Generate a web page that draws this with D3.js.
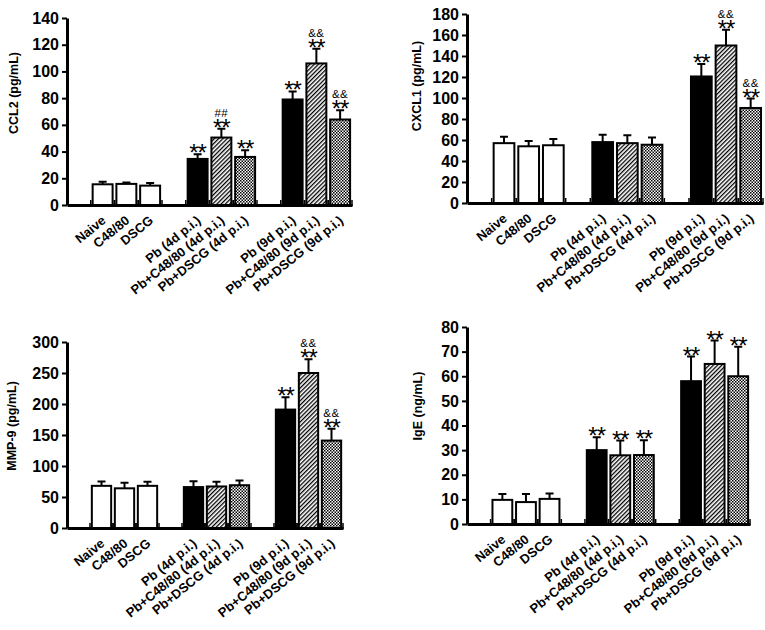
<!DOCTYPE html>
<html>
<head>
<meta charset="utf-8">
<script src="https://cdn.jsdelivr.net/npm/d3@7"></script>
<style>
  body { margin: 0; background: #fff; }
  svg { display: block; font-family: "Liberation Sans", Arial, sans-serif; }
  .axis text { font-weight: bold; fill: #000; }
</style>
</head>
<body>
<div class="chart-container"></div>
<script>
//! DATA
const groups = [
  'Naive', 'C48/80', 'DSCG',
  'Pb (4d p.i.)', 'Pb+C48/80 (4d p.i.)', 'Pb+DSCG (4d p.i.)',
  'Pb (9d p.i.)', 'Pb+C48/80 (9d p.i.)', 'Pb+DSCG (9d p.i.)'
];

const ccl2Mean = [15.5, 15.8, 14.5, 34.5, 50.5, 36, 79, 106, 64];
const ccl2Err = [2, 1, 2, 3.5, 6.5, 5, 6, 11, 7];
const ccl2Stars = ['', '', '', '**', '**', '**', '**', '**', '**'];
const ccl2Marks = ['', '', '', '', '##', '', '', '&&', '&&'];
const ccl2Ticks = [0, 20, 40, 60, 80, 100, 120, 140];

const cxcl1Mean = [57, 54, 55, 58, 57, 55.5, 120.5, 150, 90.5];
const cxcl1Err = [6, 5, 6, 7, 7.5, 7, 12, 15, 9];
const cxcl1Stars = ['', '', '', '', '', '', '**', '**', '**'];
const cxcl1Marks = ['', '', '', '', '', '', '', '&&', '&&'];
const cxcl1Ticks = [0, 20, 40, 60, 80, 100, 120, 140, 160, 180];

const mmp9Mean = [68, 64, 68, 66, 67, 69, 191, 250, 141];
const mmp9Err = [7, 9, 6.5, 9.5, 7.5, 7.5, 20, 22, 19];
const mmp9Stars = ['', '', '', '', '', '', '**', '**', '**'];
const mmp9Marks = ['', '', '', '', '', '', '', '&&', '&&'];
const mmp9Ticks = [0, 50, 100, 150, 200, 250, 300];

const igeMean = [9.8, 8.9, 10.2, 30, 27.9, 28, 58, 65, 60];
const igeErr = [2.4, 3.3, 2.2, 5.2, 6, 6, 10, 9.5, 12];
const igeStars = ['', '', '', '**', '**', '**', '**', '**', '**'];
const igeMarks = ['', '', '', '', '', '', '', '', ''];
const igeTicks = [0, 10, 20, 30, 40, 50, 60, 70, 80];

//! CONSTS
const width = 765;
const height = 630;
// slot order on the x axis, spacer slots keep the three groups apart
const slots = ['_a', groups[0], groups[1], groups[2], '_b',
  groups[3], groups[4], groups[5], '_c', groups[6], groups[7], groups[8]];
const fillFor = (i) => (i < 3 ? '#fff' : ['#000', 'url(#hatch)', 'url(#check)'][i % 3]);

const panels = [
  { title: 'CCL2 (pg/mL)', mean: ccl2Mean, err: ccl2Err, stars: ccl2Stars, marks: ccl2Marks, ticks: ccl2Ticks,
    x0: 67, x1: 352, yTop: 18, y0: 205, tx: 14, ty: 93 },
  { title: 'CXCL1 (pg/mL)', mean: cxcl1Mean, err: cxcl1Err, stars: cxcl1Stars, marks: cxcl1Marks, ticks: cxcl1Ticks,
    x0: 467, x1: 763, yTop: 14, y0: 203, tx: 417, ty: 86 },
  { title: 'MMP-9 (pg/mL)', mean: mmp9Mean, err: mmp9Err, stars: mmp9Stars, marks: mmp9Marks, ticks: mmp9Ticks,
    x0: 67, x1: 343, yTop: 342, y0: 528, tx: 12, ty: 426 },
  { title: 'IgE (ng/mL)', mean: igeMean, err: igeErr, stars: igeStars, marks: igeMarks, ticks: igeTicks,
    x0: 467, x1: 750, yTop: 327, y0: 524, tx: 418, ty: 406 }
];

//! SVG
const svg = d3.select('.chart-container')
  .append('svg')
  .attr('width', width)
  .attr('height', height);

const defs = svg.append('defs');
defs.append('pattern')
  .attr('id', 'hatch')
  .attr('patternUnits', 'userSpaceOnUse')
  .attr('width', 3)
  .attr('height', 3)
  .attr('patternTransform', 'rotate(45)')
  .call((p) => {
    p.append('rect').attr('width', 3).attr('height', 3).attr('fill', '#fff');
    p.append('line').attr('x1', 0.6).attr('x2', 0.6).attr('y1', 0).attr('y2', 3)
      .attr('stroke', '#000').attr('stroke-width', 1.4);
  });
defs.append('pattern')
  .attr('id', 'check')
  .attr('patternUnits', 'userSpaceOnUse')
  .attr('width', 3)
  .attr('height', 3)
  .call((p) => {
    p.append('rect').attr('width', 3).attr('height', 3).attr('fill', '#fff');
    p.append('rect').attr('width', 1.5).attr('height', 1.5).attr('fill', '#000');
    p.append('rect').attr('x', 1.5).attr('y', 1.5).attr('width', 1.5).attr('height', 1.5).attr('fill', '#000');
  });

panels.forEach((pn) => {
  const g = svg.append('g');
  const rows = groups.map((name, i) => ({ name, i, v: pn.mean[i], e: pn.err[i], s: pn.stars[i], m: pn.marks[i] }));

  //! X
  const xScale = d3.scaleBand()
    .domain(slots)
    .range([pn.x0, pn.x1])
    .paddingInner(0.16)
    .paddingOuter(0.08);
  const gap = xScale.step() - xScale.bandwidth();

  //! Y
  const yScale = d3.scaleLinear()
    .domain([0, pn.ticks[pn.ticks.length - 1]])
    .range([pn.y0, pn.yTop]);

  // small ticks between the bars
  g.selectAll('.edge')
    .data(rows.flatMap((d) => [xScale(d.name) - gap / 2, xScale(d.name) + xScale.bandwidth() + gap / 2]))
    .enter()
    .append('line')
    .attr('x1', (d) => d)
    .attr('x2', (d) => d)
    .attr('y1', pn.y0 - 5)
    .attr('y2', pn.y0 + 1)
    .attr('stroke', '#000')
    .attr('stroke-width', 1.5);

  //! BARS
  g.selectAll('rect.bar')
    .data(rows)
    .enter()
    .append('rect')
    .attr('class', 'bar')
    .attr('x', (d) => xScale(d.name))
    .attr('y', (d) => yScale(d.v))
    .attr('width', xScale.bandwidth())
    .attr('height', (d) => pn.y0 - yScale(d.v))
    .attr('fill', (d) => fillFor(d.i))
    .attr('stroke', '#000')
    .attr('stroke-width', 2);

  // error bars, upper side only
  const cx = (d) => xScale(d.name) + xScale.bandwidth() / 2;
  g.selectAll('.err')
    .data(rows)
    .enter()
    .append('path')
    .attr('d', (d) => `M${cx(d)},${yScale(d.v)}V${yScale(d.v + d.e)}M${cx(d) - 4},${yScale(d.v + d.e)}H${cx(d) + 4}`)
    .attr('stroke', '#000')
    .attr('stroke-width', 2)
    .attr('fill', 'none');

  // significance marks: small ## / && line stacked over the **
  const sig = g.selectAll('.sig')
    .data(rows.filter((d) => d.s))
    .enter()
    .append('text')
    .attr('class', 'sig')
    .attr('text-anchor', 'middle');
  sig.filter((d) => d.m)
    .append('tspan')
    .attr('x', (d) => cx(d))
    .attr('y', (d) => yScale(d.v + d.e) - 12)
    .attr('font-size', 11.5)
    .attr('letter-spacing', 0.5)
    .text((d) => d.m);
  sig.append('tspan')
    .attr('x', (d) => cx(d))
    .attr('y', (d) => yScale(d.v + d.e) + 7)
    .attr('font-size', 24)
    .attr('letter-spacing', -1)
    .text((d) => d.s);

  // !AXIS
  const yAxis = g.append('g')
    .attr('class', 'axis')
    .attr('transform', `translate(${pn.x0},0)`)
    .call(d3.axisLeft(yScale).tickValues(pn.ticks).tickSize(5).tickSizeOuter(0).tickPadding(3));
  yAxis.selectAll('text').attr('font-size', 16);
  yAxis.selectAll('.tick line').attr('stroke-width', 2);
  yAxis.select('.domain').attr('stroke-width', 3);

  const xAxis = g.append('g')
    .attr('class', 'axis')
    .attr('transform', `translate(0,${pn.y0})`)
    .call(d3.axisBottom(xScale).tickValues(groups).tickSize(0).tickSizeOuter(0));
  xAxis.select('.domain').attr('stroke-width', 3);
  xAxis.selectAll('text')
    .attr('font-size', 13)
    .attr('text-anchor', 'end')
    .attr('x', 0)
    .attr('y', 0)
    .attr('dy', 0)
    .attr('transform', 'translate(4,17) rotate(-39)');

  g.append('text')
    .attr('transform', `translate(${pn.tx},${pn.ty}) rotate(-90)`)
    .attr('text-anchor', 'middle')
    .attr('dominant-baseline', 'central')
    .attr('font-size', 12.5)
    .attr('font-weight', 'bold')
    .text(pn.title);
});
</script>
</body>
</html>
